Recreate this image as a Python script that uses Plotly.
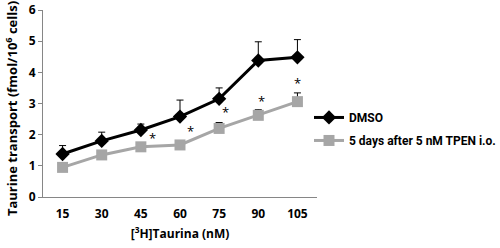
import plotly.graph_objects as go

categories = ["15", "30", "45", "60", "75", "90", "105"]
dmso = [1.38, 1.80, 2.15, 2.58, 3.15, 4.38, 4.48]
dmso_err = [0.27, 0.28, 0.19, 0.53, 0.35, 0.60, 0.57]
tpen = [0.95, 1.35, 1.61, 1.67, 2.20, 2.62, 3.06]
tpen_err = [0.05, 0.05, 0.05, 0.05, 0.19, 0.18, 0.28]
star_cats = ["45", "60", "75", "90", "105"]
star_y = [1.88, 2.13, 2.72, 3.07, 3.65]
star_shift = [12, 10, 6, 3, 0]

FONT = "Open Sans"

fig = go.Figure()
fig.add_trace(go.Scatter(
    x=categories, y=dmso, name="<b>DMSO</b>", mode="lines+markers",
    line=dict(color="black", width=3),
    marker=dict(symbol="diamond", size=11, color="black"),
    error_y=dict(type="data", array=dmso_err, arrayminus=[0]*7, symmetric=False,
                 color="black", thickness=1, width=3.5),
    legendgroup="a",
))
fig.add_trace(go.Scatter(
    x=categories, y=tpen, name="<b>5 days after 5 nM TPEN i.o.</b>", mode="lines+markers",
    line=dict(color="#A6A6A6", width=3),
    marker=dict(symbol="square", size=11, color="#A6A6A6"),
    error_y=dict(type="data", array=tpen_err, arrayminus=[0]*7, symmetric=False,
                 color="black", thickness=1, width=3.5),
    legendgroup="b",
))

for c, yv, s in zip(star_cats, star_y, star_shift):
    fig.add_annotation(x=categories.index(c), y=yv, text="*", showarrow=False, xshift=s,
                       font=dict(family=FONT, size=13, color="black"),
                       yanchor="middle", xanchor="center")

# y-axis title as annotation (positioned like the reference)
fig.add_annotation(text="<b>Taurine transport (fmol/10<sup>6</sup> cells)</b>",
                   xref="paper", yref="paper", x=0, y=0.47, xshift=-32,
                   textangle=-90, showarrow=False, xanchor="center", yanchor="middle",
                   font=dict(family=FONT, size=13, color="black"))

fig.update_layout(
    width=500, height=248,
    margin=dict(l=43, r=183, t=10, b=51, autoexpand=False),
    paper_bgcolor="white", plot_bgcolor="white",
    font=dict(family=FONT, color="black"),
    showlegend=True,
    legend=dict(xref="container", yref="container", x=0.618, y=0.48,
                xanchor="left", yanchor="middle",
                font=dict(family="Roboto", size=12, color="black"),
                itemwidth=30, tracegroupgap=4, bgcolor="rgba(0,0,0,0)",
                borderwidth=0),
    xaxis=dict(
        type="category", showgrid=False, showline=True, linecolor="#868686", linewidth=1,
        ticks="", tickfont=dict(family=FONT, size=12), ticklabelstandoff=6,
        automargin=False,
        title=dict(text="<b>[<sup>3</sup>H]Taurina (nM)</b>", font=dict(family=FONT, size=12), standoff=8),
        range=[-0.5, 6.5],
    ),
    yaxis=dict(
        range=[0, 6], dtick=1, showgrid=False, zeroline=False,
        showline=True, linecolor="#868686", linewidth=1,
        ticks="outside", ticklen=4, tickcolor="#868686",
        tickfont=dict(family=FONT, size=12), automargin=False,
    ),
)
fig.update_xaxes(tickprefix="<b>", ticksuffix="</b>")
fig.update_yaxes(tickprefix="<b>", ticksuffix="</b>")

fig.write_html("out.html", config={"displayModeBar": False},
               post_script="document.body.style.margin='0';")
